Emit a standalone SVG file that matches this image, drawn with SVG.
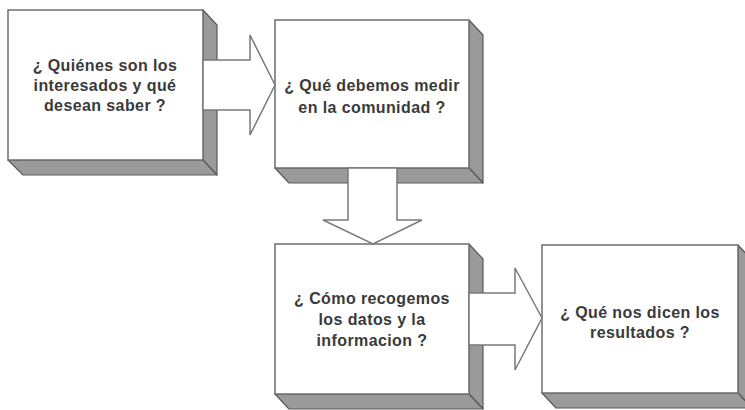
<svg xmlns="http://www.w3.org/2000/svg" width="745" height="410" viewBox="0 0 745 410">
<style>
.front{fill:#ffffff;stroke:#6e6e6e;stroke-width:1.5}
.side{fill:#9a9a9a;stroke:#5a5a5a;stroke-width:1.2;stroke-linejoin:round}
.arrow{fill:#ffffff;stroke:#7a7a7a;stroke-width:1.5;stroke-linejoin:miter}
.lbl{font-family:"Liberation Sans",Arial,sans-serif;font-weight:bold;font-size:16px;fill:#3a3a3a;text-anchor:middle;letter-spacing:0.4px}
</style>
<rect width="745" height="410" fill="#ffffff"/>
<g id="node1">
<polygon class="side" points="203,10 217,25 217,175 203,160"/>
<polygon class="side" points="8,160 203,160 217,175 23,175"/>
<rect class="front" x="8" y="10" width="195" height="150"/>
<text class="lbl" x="105" y="71">¿ Quiénes son los</text>
<text class="lbl" x="105" y="91">interesados y qué</text>
<text class="lbl" x="105" y="111">desean saber ?</text>
</g>
<g id="node2">
<polygon class="side" points="469,20 483,35 483,183 469,168"/>
<polygon class="side" points="275,168 469,168 483,183 289,183"/>
<rect class="front" x="275" y="20" width="194" height="148"/>
<text class="lbl" x="372" y="91">¿ Qué debemos medir</text>
<text class="lbl" x="372" y="113">en la comunidad ?</text>
</g>
<g id="node3">
<polygon class="side" points="469,244 483,259 483,409 469,394"/>
<polygon class="side" points="275,394 469,394 483,409 289,409"/>
<rect class="front" x="275" y="244" width="194" height="150"/>
<text class="lbl" x="372" y="304">¿ Cómo recogemos</text>
<text class="lbl" x="372" y="325">los datos y la</text>
<text class="lbl" x="372" y="346">informacion ?</text>
</g>
<g id="node4">
<polygon class="side" points="738,245 752,260 752,408 738,393"/>
<polygon class="side" points="542,393 738,393 752,408 556,408"/>
<rect class="front" x="542" y="245" width="196" height="148"/>
<text class="lbl" x="640" y="318">¿ Qué nos dicen los</text>
<text class="lbl" x="640" y="338">resultados ?</text>
</g>
<g id="connectors">
<polygon class="arrow" points="203,60 250,60 250,35 275,85 250,135 250,110 203,110"/>
<polygon class="arrow" points="348,168 397,168 397,220 422,220 373,244 323,220 348,220"/>
<polygon class="arrow" points="469,293 515,293 515,268 542,318 515,370 515,345 469,345"/>
</g>
</svg>
